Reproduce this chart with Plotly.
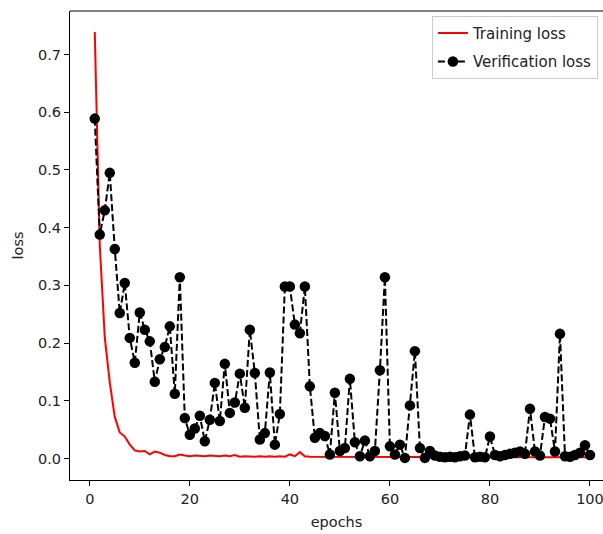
import plotly.graph_objects as go

epochs = list(range(1, 101))

training_loss = [
    0.739, 0.370, 0.210, 0.132, 0.072, 0.045, 0.038, 0.024, 0.014, 0.012,
    0.013, 0.007, 0.012, 0.010, 0.006, 0.004, 0.004, 0.007, 0.005, 0.004,
    0.005, 0.004, 0.004, 0.005, 0.004, 0.004, 0.005, 0.004, 0.006, 0.003,
    0.004, 0.003, 0.003, 0.004, 0.003, 0.004, 0.003, 0.004, 0.003, 0.007,
    0.004, 0.011, 0.004, 0.003, 0.003, 0.003, 0.002, 0.003, 0.002, 0.003,
    0.002, 0.002, 0.003, 0.002, 0.002, 0.003, 0.002, 0.002, 0.002, 0.003,
    0.002, 0.002, 0.002, 0.003, 0.002, 0.002, 0.002, 0.002, 0.003, 0.002,
    0.002, 0.002, 0.002, 0.002, 0.003, 0.002, 0.002, 0.002, 0.002, 0.002,
    0.003, 0.002, 0.002, 0.002, 0.002, 0.002, 0.003, 0.002, 0.002, 0.002,
    0.002, 0.002, 0.002, 0.003, 0.002, 0.002, 0.002, 0.002, 0.002, 0.002,
]

verification_loss = [
    0.589, 0.388, 0.430, 0.495, 0.363, 0.252, 0.304, 0.209, 0.166, 0.253,
    0.223, 0.203, 0.133, 0.172, 0.193, 0.229, 0.112, 0.314, 0.070, 0.041,
    0.052, 0.074, 0.030, 0.067, 0.131, 0.065, 0.164, 0.079, 0.097, 0.147,
    0.088, 0.223, 0.148, 0.033, 0.044, 0.149, 0.024, 0.077, 0.298, 0.298,
    0.232, 0.217, 0.298, 0.125, 0.036, 0.044, 0.039, 0.007, 0.114, 0.013,
    0.018, 0.138, 0.028, 0.004, 0.031, 0.004, 0.013, 0.153, 0.314, 0.021,
    0.007, 0.024, 0.001, 0.092, 0.186, 0.018, 0.001, 0.013, 0.005, 0.003,
    0.002, 0.003, 0.002, 0.004, 0.005, 0.076, 0.002, 0.003, 0.002, 0.038,
    0.006, 0.004, 0.006, 0.008, 0.010, 0.012, 0.008, 0.086, 0.012, 0.005,
    0.072, 0.069, 0.012, 0.216, 0.004, 0.003, 0.006, 0.010, 0.023, 0.006,
]

x_ticks = [0, 20, 40, 60, 80, 100]
y_ticks = [0.0, 0.1, 0.2, 0.3, 0.4, 0.5, 0.6, 0.7]

FONT = "DejaVu Sans"

fig = go.Figure()
fig.add_trace(go.Scatter(
    x=epochs, y=training_loss, mode="lines", name="Training loss",
    line=dict(color="#ff0000", width=2), legendgroup="a",
))
fig.add_trace(go.Scatter(
    x=epochs, y=verification_loss, mode="lines+markers", name="Verification loss",
    line=dict(color="black", width=2, dash="7px,3px"),
    marker=dict(color="black", size=10.5), legendgroup="b",
))

fig.update_layout(
    width=603, height=534,
    margin=dict(l=70, r=0, t=11, b=54),
    paper_bgcolor="white", plot_bgcolor="white",
    font=dict(family=FONT, size=14.5, color="#222222"),
    showlegend=True,
    legend=dict(
        x=0.679, y=0.990, xanchor="left", yanchor="top",
        bgcolor="rgba(255,255,255,0.8)", bordercolor="#cccccc", borderwidth=1,
        font=dict(family=FONT, size=15, color="#222222"),
        tracegroupgap=6, traceorder="grouped",
    ),
    xaxis=dict(
        range=[-3.95, 102.6], tickvals=x_ticks, ticktext=[str(v) for v in x_ticks],
        showgrid=False, zeroline=False, showline=True, linecolor="black", linewidth=1.2,
        ticks="outside", ticklen=5, tickwidth=1, tickcolor="black",
        ticklabeloverflow="allow",
        title=dict(text="epochs", standoff=11, font=dict(size=14.5)),
    ),
    yaxis=dict(
        range=[-0.0373, 0.7755], tickvals=y_ticks, ticktext=[f"{v:.1f}" for v in y_ticks],
        showgrid=False, zeroline=False, showline=True, linecolor="black", linewidth=1.2,
        ticks="outside", ticklen=5, tickwidth=1, tickcolor="black",
        title=dict(text="loss", standoff=10, font=dict(size=14.5)),
    ),
    shapes=[dict(type="line", xref="paper", yref="paper", x0=0, x1=1, y0=1, y1=1,
                 line=dict(color="black", width=1.2))],
)

fig.write_html("out.html")
